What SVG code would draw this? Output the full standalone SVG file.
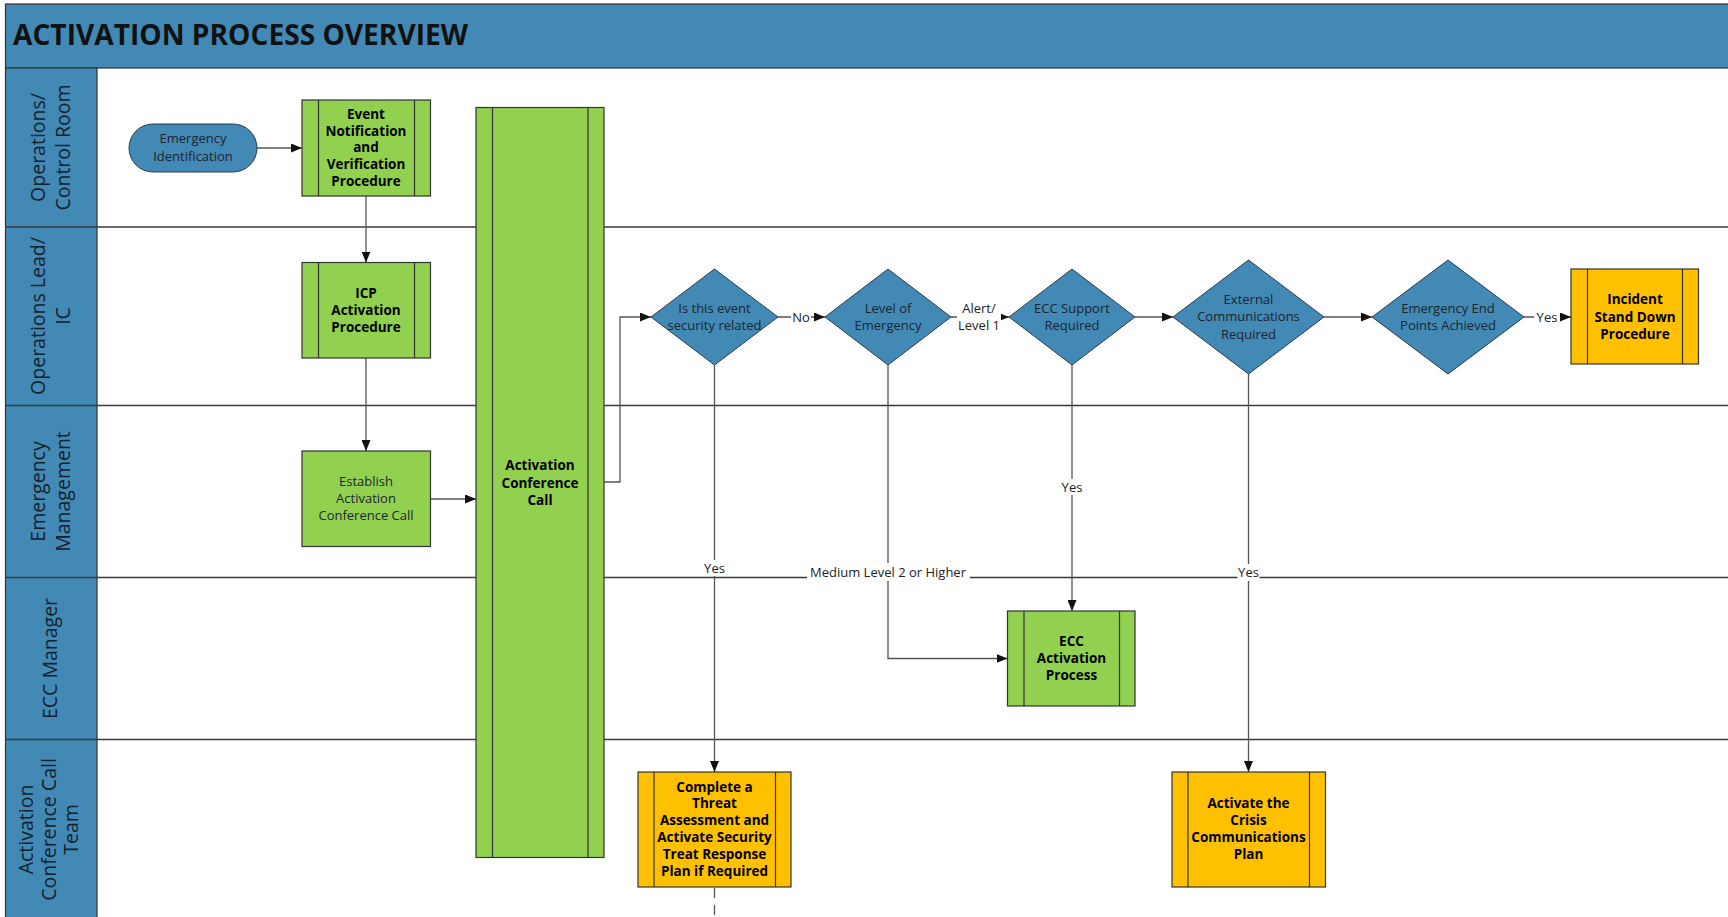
<svg xmlns="http://www.w3.org/2000/svg" width="1728" height="917" viewBox="0 0 1728 917">
<style>
  .hdr{fill:#4389B5;stroke:#333;stroke-width:1.2}
  .lane{stroke:#3a3a3a;stroke-width:1.3;fill:none}
  .lt{font-family:"Open Sans","Liberation Sans",sans-serif;font-size:19.5px;fill:#14212c;text-anchor:middle}
  .green{fill:#92D050;stroke:#333;stroke-width:1.2}
  .orange{fill:#FFC000;stroke:#333;stroke-width:1.2}
  .bar{stroke:#333;stroke-width:1.2}
  .dia{fill:#4389B5;stroke:#2b3d4d;stroke-width:1}
  .bt{font-family:"Open Sans","Liberation Sans",sans-serif;font-size:13.5px;font-weight:bold;fill:#000;text-anchor:middle}
  .nt{font-family:"Open Sans","Liberation Sans",sans-serif;font-size:13px;fill:#1c2530;text-anchor:middle}
  .lbl{font-family:"Open Sans","Liberation Sans",sans-serif;font-size:13px;fill:#222;text-anchor:middle}
  .con{stroke:#555;stroke-width:1.3;fill:none}
  .bg{fill:#fff}
</style>
<defs>
  <marker id="arr" viewBox="0 0 11 9" refX="11" refY="4.5" markerWidth="11" markerHeight="9" markerUnits="userSpaceOnUse" orient="auto">
    <path d="M0,0 L11,4.5 L0,9 z" fill="#111"/>
  </marker>
</defs>
<rect x="0" y="0" width="1728" height="917" fill="#fff"/>

<!-- title bar and lane structure -->
<g id="pool">
  <rect class="hdr" x="5.5" y="4" width="1730" height="64"/>
  <text x="13" y="45" font-family="'Open Sans','Liberation Sans',sans-serif" font-size="28" font-weight="bold" fill="#111" textLength="455" lengthAdjust="spacingAndGlyphs">ACTIVATION PROCESS OVERVIEW</text>
  <rect class="hdr" x="5.5" y="68" width="91.5" height="860"/>
  <line class="lane" x1="5.5" y1="227" x2="1728" y2="227"/>
  <line class="lane" x1="5.5" y1="405.5" x2="1728" y2="405.5"/>
  <line class="lane" x1="5.5" y1="577.5" x2="1728" y2="577.5"/>
  <line class="lane" x1="5.5" y1="739.5" x2="1728" y2="739.5"/>
  <text class="lt" transform="translate(50,147.5) rotate(-90)"><tspan x="0" y="-5">Operations/</tspan><tspan x="0" y="20">Control Room</tspan></text>
  <text class="lt" transform="translate(50,316) rotate(-90)"><tspan x="0" y="-5">Operations Lead/</tspan><tspan x="0" y="20">IC</tspan></text>
  <text class="lt" transform="translate(50,491.5) rotate(-90)"><tspan x="0" y="-5">Emergency</tspan><tspan x="0" y="20">Management</tspan></text>
  <text class="lt" transform="translate(50,658.5) rotate(-90)"><tspan x="0" y="7">ECC Manager</tspan></text>
  <text class="lt" transform="translate(50,829.5) rotate(-90)"><tspan x="0" y="-17.5">Activation</tspan><tspan x="0" y="6">Conference Call</tspan><tspan x="0" y="28">Team</tspan></text>
</g>

<!-- connectors -->
<g id="connectors">
  <line class="con" x1="257" y1="148" x2="302" y2="148" marker-end="url(#arr)"/>
  <line class="con" x1="366" y1="196" x2="366" y2="262.5" marker-end="url(#arr)"/>
  <line class="con" x1="366" y1="358" x2="366" y2="451" marker-end="url(#arr)"/>
  <line class="con" x1="430.5" y1="499" x2="476" y2="499" marker-end="url(#arr)"/>
  <polyline class="con" points="604,482 620,482 620,317 651,317" marker-end="url(#arr)"/>
  <line class="con" x1="778" y1="317" x2="825" y2="317" marker-end="url(#arr)"/>
  <line class="con" x1="951" y1="317" x2="1009" y2="317" marker-end="url(#arr)"/>
  <line class="con" x1="1135" y1="317" x2="1173" y2="317" marker-end="url(#arr)"/>
  <line class="con" x1="1324" y1="317" x2="1372" y2="317" marker-end="url(#arr)"/>
  <line class="con" x1="1524" y1="317" x2="1571" y2="317" marker-end="url(#arr)"/>
  <line class="con" x1="714.5" y1="365" x2="714.5" y2="772" marker-end="url(#arr)"/>
  <polyline class="con" points="888,365 888,658.5 1007.5,658.5" marker-end="url(#arr)"/>
  <line class="con" x1="1072" y1="365" x2="1072" y2="611" marker-end="url(#arr)"/>
  <line class="con" x1="1248.5" y1="374" x2="1248.5" y2="772" marker-end="url(#arr)"/>
  <line class="con" x1="714.5" y1="888" x2="714.5" y2="917" stroke-dasharray="10 7"/>
  <!-- labels -->
  <rect class="bg" x="791" y="309" width="20" height="16"/>
  <text class="lbl" x="801" y="321.7">No</text>
  <rect class="bg" x="957" y="299" width="44" height="35"/>
  <text class="lbl" x="979" y="312.7">Alert/</text>
  <text class="lbl" x="979" y="329.7">Level 1</text>
  <rect class="bg" x="1534" y="309" width="26" height="16"/>
  <text class="lbl" x="1547" y="321.7">Yes</text>
  <rect class="bg" x="702" y="560" width="25" height="16"/>
  <text class="lbl" x="714.5" y="572.7">Yes</text>
  <rect class="bg" x="807" y="563" width="163" height="18"/>
  <text class="lbl" x="888" y="576.5">Medium Level 2 or Higher</text>
  <rect class="bg" x="1059.5" y="479" width="25" height="16"/>
  <text class="lbl" x="1072" y="491.7">Yes</text>
  <rect class="bg" x="1237.5" y="564" width="22" height="17"/>
  <text class="lbl" x="1248.5" y="577.4">Yes</text>
</g>

<g id="emergency-identification">
  <rect class="dia" x="129" y="124" width="128" height="48" rx="24"/>
  <text class="nt"><tspan x="193" y="143">Emergency</tspan><tspan x="193" y="160.5">Identification</tspan></text>
</g>

<g id="event-notification">
  <rect class="green" x="302" y="100" width="128.5" height="96"/>
  <line class="bar" x1="318.5" y1="100" x2="318.5" y2="196"/>
  <line class="bar" x1="414.5" y1="100" x2="414.5" y2="196"/>
  <text class="bt"><tspan x="366" y="119">Event</tspan><tspan x="366" y="135.7">Notification</tspan><tspan x="366" y="152.4">and</tspan><tspan x="366" y="169.1">Verification</tspan><tspan x="366" y="185.8">Procedure</tspan></text>
</g>

<g id="icp-activation">
  <rect class="green" x="302" y="262.5" width="128.5" height="95.5"/>
  <line class="bar" x1="318.5" y1="262.5" x2="318.5" y2="358"/>
  <line class="bar" x1="414.5" y1="262.5" x2="414.5" y2="358"/>
  <text class="bt"><tspan x="366" y="297.5">ICP</tspan><tspan x="366" y="314.5">Activation</tspan><tspan x="366" y="331.5">Procedure</tspan></text>
</g>

<g id="establish-call">
  <rect class="green" x="302" y="451" width="128.5" height="95.5"/>
  <text class="nt"><tspan x="366" y="485.7">Establish</tspan><tspan x="366" y="503">Activation</tspan><tspan x="366" y="520.3">Conference Call</tspan></text>
</g>

<g id="activation-conference-call">
  <rect class="green" x="476" y="107.5" width="128" height="750"/>
  <line class="bar" x1="492.5" y1="107.5" x2="492.5" y2="857.5"/>
  <line class="bar" x1="588" y1="107.5" x2="588" y2="857.5"/>
  <text class="bt"><tspan x="540" y="470">Activation</tspan><tspan x="540" y="487.5">Conference</tspan><tspan x="540" y="504.5">Call</tspan></text>
</g>

<g id="security-related">
  <polygon class="dia" points="714.5,269 778,317 714.5,365 651,317"/>
  <text class="nt"><tspan x="714.5" y="312.7">Is this event</tspan><tspan x="714.5" y="329.7">security related</tspan></text>
</g>

<g id="level-of-emergency">
  <polygon class="dia" points="888,269 951,317 888,365 825,317"/>
  <text class="nt"><tspan x="888" y="312.7">Level of</tspan><tspan x="888" y="329.7">Emergency</tspan></text>
</g>

<g id="ecc-support">
  <polygon class="dia" points="1072,269 1135,317 1072,365 1009,317"/>
  <text class="nt"><tspan x="1072" y="312.7">ECC Support</tspan><tspan x="1072" y="329.7">Required</tspan></text>
</g>

<g id="external-comms">
  <polygon class="dia" points="1248.5,260 1324,317 1248.5,374 1173,317"/>
  <text class="nt"><tspan x="1248.5" y="303.7">External</tspan><tspan x="1248.5" y="321">Communications</tspan><tspan x="1248.5" y="338.5">Required</tspan></text>
</g>

<g id="end-points">
  <polygon class="dia" points="1448,260 1524,317 1448,374 1372,317"/>
  <text class="nt"><tspan x="1448" y="312.7">Emergency End</tspan><tspan x="1448" y="329.7">Points Achieved</tspan></text>
</g>

<g id="incident-stand-down">
  <rect class="orange" x="1571" y="269" width="127.5" height="95"/>
  <line class="bar" x1="1587.5" y1="269" x2="1587.5" y2="364"/>
  <line class="bar" x1="1682.5" y1="269" x2="1682.5" y2="364"/>
  <text class="bt"><tspan x="1635" y="304">Incident</tspan><tspan x="1635" y="321.5">Stand Down</tspan><tspan x="1635" y="338.5">Procedure</tspan></text>
</g>

<g id="ecc-activation">
  <rect class="green" x="1007.5" y="611" width="127.5" height="95"/>
  <line class="bar" x1="1024" y1="611" x2="1024" y2="706"/>
  <line class="bar" x1="1119.5" y1="611" x2="1119.5" y2="706"/>
  <text class="bt"><tspan x="1071.5" y="645.5">ECC</tspan><tspan x="1071.5" y="662.8">Activation</tspan><tspan x="1071.5" y="680">Process</tspan></text>
</g>

<g id="threat-assessment">
  <rect class="orange" x="638" y="772" width="153" height="115"/>
  <line class="bar" x1="654" y1="772" x2="654" y2="887"/>
  <line class="bar" x1="775.5" y1="772" x2="775.5" y2="887"/>
  <text class="bt"><tspan x="714.5" y="791.5">Complete a</tspan><tspan x="714.5" y="808.3">Threat</tspan><tspan x="714.5" y="825.1">Assessment and</tspan><tspan x="714.5" y="841.9">Activate Security</tspan><tspan x="714.5" y="858.7">Treat Response</tspan><tspan x="714.5" y="875.5">Plan if Required</tspan></text>
</g>

<g id="crisis-comms">
  <rect class="orange" x="1172" y="772" width="153.5" height="115"/>
  <line class="bar" x1="1188" y1="772" x2="1188" y2="887"/>
  <line class="bar" x1="1309.5" y1="772" x2="1309.5" y2="887"/>
  <text class="bt"><tspan x="1248.5" y="808">Activate the</tspan><tspan x="1248.5" y="825">Crisis</tspan><tspan x="1248.5" y="842">Communications</tspan><tspan x="1248.5" y="859">Plan</tspan></text>
</g>
</svg>
